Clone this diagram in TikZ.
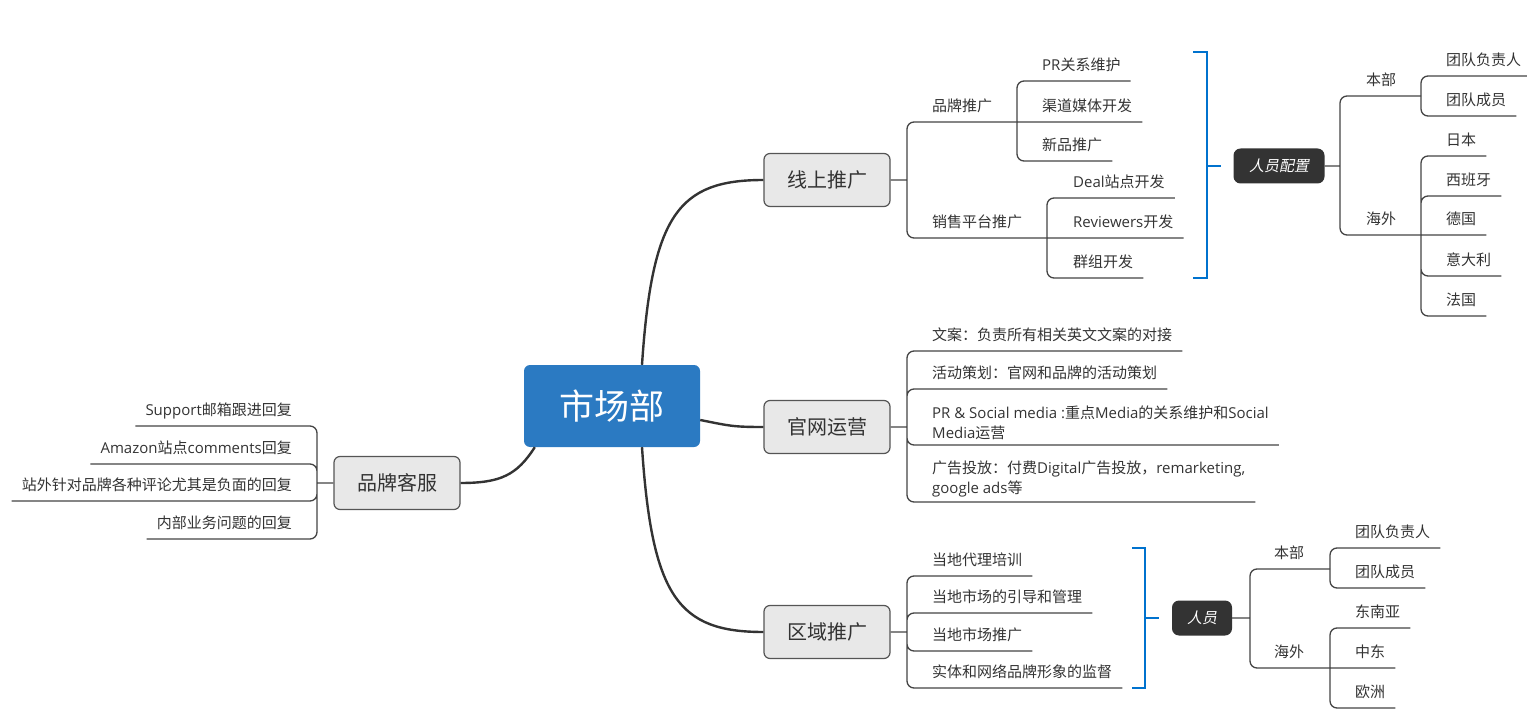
\documentclass[tikz,border=0pt]{standalone}
\usepackage{fontspec}
\setmainfont{Noto Sans CJK SC}
\newfontfamily\en{Open Sans}
\newfontfamily\zhslant[FakeSlant=0.2]{Noto Sans CJK SC}
\definecolor{hubblue}{RGB}{43,122,194}
\definecolor{bracketblue}{RGB}{0,114,206}
\definecolor{topicgray}{RGB}{232,232,232}
\definecolor{edgegray}{RGB}{85,85,85}
\definecolor{inkgray}{RGB}{51,51,51}
\definecolor{linegray}{RGB}{68,68,68}

\begin{document}
\begin{tikzpicture}[x=1pt,y=-1pt,
    hub/.style={rounded corners=6pt,fill=hubblue,text=white,minimum width=176pt,minimum height=82pt,font=\fontsize{35}{40}\selectfont},
    topic/.style={rounded corners=6pt,draw=edgegray,line width=1.2pt,fill=topicgray,text=inkgray,minimum width=126pt,minimum height=53pt,font=\fontsize{20}{24}\selectfont},
    tag/.style={rounded corners=7pt,fill=inkgray,text=white,minimum height=35pt,font=\zhslant\fontsize{15}{18}\selectfont},
    leafbase/.style={inner xsep=10pt,text=inkgray,font=\fontsize{15}{20}\selectfont},
    leaf/.style={leafbase,anchor=south west,inner ysep=10.5pt,text depth=0pt},
    leftleaf/.style={leaf,anchor=south east},
    twoline/.style={leafbase,anchor=south west,inner ysep=5pt,align=left},
    trunk/.style={line width=2.4pt,draw=inkgray},
    twig/.style={line width=1.3pt,draw=linegray,rounded corners=7pt},
    brace/.style={line width=2.8pt,draw=bracketblue}]

  \useasboundingbox (0,0) rectangle (1527,722);

  % centre and main topics
  \node[hub] (mkt) at (612,406) {市场部};
  \node[topic] (online) at (827,180) {线上推广};
  \node[topic] (web) at (827,427) {官网运营};
  \node[topic] (region) at (827,632) {区域推广};
  \node[topic] (svc) at (397,483) {品牌客服};

  \draw[trunk] ([xshift=30pt]mkt.north) .. controls +(10,-150) and +(-85,0) .. (online.west);
  \draw[trunk] ([xshift=30pt]mkt.south) .. controls +(10,150) and +(-85,0) .. (region.west);
  \draw[trunk] ([yshift=-14pt]mkt.east) .. controls +(30,6) and +(-30,0) .. (web.west);
  \draw[trunk] ([xshift=11pt]mkt.south west) .. controls +(-18,28) and +(40,0) .. (svc.east);

  % 线上推广
  \coordinate (on0) at (907,180);
  \coordinate (on1) at (1017,122);
  \coordinate (on2) at (1047,238);
  \node[leaf] (brand) at (922,122) {品牌推广};
  \node[leaf] (sales) at (922,238) {销售平台推广};
  \draw[twig] (online) -- (on0) (on0) |- (on1) (on0) |- (on2);

  \node[leaf] (prcare) at (1032,81) {{\en PR}关系维护};
  \node[leaf] (channel) at (1032,122) {渠道媒体开发};
  \node[leaf] (newprod) at (1032,161) {新品推广};
  \draw[twig] (on1) |- (prcare.south east) (on1) -- (channel.south east)
              (on1) |- (newprod.south east);

  \node[leaf] (deal) at (1063,198) {{\en Deal}站点开发};
  \node[leaf] (review) at (1063,238) {{\en Reviewers}开发};
  \node[leaf] (group) at (1063,278) {群组开发};
  \draw[twig] (on2) |- (deal.south east) (on2) -- (review.south east)
              (on2) |- (group.south east);

  % 人员配置
  \node[tag,minimum width=91pt] (staff) at (1279,166) {人员配置};
  \coordinate (bt) at (1207,166);
  \draw[brace] (1193,52) -| (bt) |- (1193,278);
  \draw[brace] (bt) -- ([xshift=-12pt]staff.west);

  \coordinate (st0) at (1340,166);
  \coordinate (st1) at (1421,96);
  \coordinate (st2) at (1421,235);
  \node[leaf] (hq) at (1356,96) {本部};
  \node[leaf] (abroad) at (1356,235) {海外};
  \draw[twig] (staff) -- (st0) (st0) |- (st1) (st0) |- (st2);

  \node[leaf] (lead) at (1436,76) {团队负责人};
  \node[leaf] (member) at (1436,116) {团队成员};
  \draw[twig] (st1) |- (lead.south east) (st1) |- (member.south east);

  \node[leaf] (jp) at (1436,156) {日本};
  \node[leaf] (es) at (1436,196) {西班牙};
  \node[leaf] (de) at (1436,235) {德国};
  \node[leaf] (it) at (1436,276) {意大利};
  \node[leaf] (fr) at (1436,316) {法国};
  \draw[twig] (st2) |- (jp.south east) (st2) |- (es.south east) (st2) -- (de.south east)
              (st2) |- (it.south east) (st2) |- (fr.south east);

  % 官网运营
  \coordinate (wb0) at (907,427);
  \node[leaf] (copy) at (922,351) {文案：负责所有相关英文文案的对接};
  \node[leaf] (event) at (922,389) {活动策划：官网和品牌的活动策划};
  \node[twoline] (social) at (922,445) {{\en PR \& Social media :}重点{\en Media}的关系维护和{\en Social}\\{\en Media}运营};
  \node[twoline] (ads) at (922,502) {广告投放：付费{\en Digital}广告投放，{\en remarketing,}\\{\en google ads}等};
  \draw[twig] (web) -- (wb0) (wb0) |- (copy.south east) (wb0) |- (event.south east)
              (wb0) |- (social.south east) (wb0) |- (ads.south east);

  % 区域推广
  \coordinate (rg0) at (907,632);
  \node[leaf] (agent) at (922,576) {当地代理培训};
  \node[leaf] (guide) at (922,613) {当地市场的引导和管理};
  \node[leaf] (promo) at (922,651) {当地市场推广};
  \node[leaf] (watch) at (922,688) {实体和网络品牌形象的监督};
  \draw[twig] (region) -- (rg0) (rg0) |- (agent.south east) (rg0) |- (guide.south east)
              (rg0) |- (promo.south east) (rg0) |- (watch.south east);

  % 人员
  \node[tag,minimum width=60pt] (crew) at (1202,618) {人员};
  \coordinate (bb) at (1145,618);
  \draw[brace] (1132,548) -| (bb) |- (1132,688);
  \draw[brace] (bb) -- ([xshift=-13pt]crew.west);

  \coordinate (cr0) at (1250,618);
  \coordinate (cr1) at (1330,569);
  \coordinate (cr2) at (1330,668);
  \node[leaf] (hq2) at (1264,569) {本部};
  \node[leaf] (abroad2) at (1264,668) {海外};
  \draw[twig] (crew) -- (cr0) (cr0) |- (cr1) (cr0) |- (cr2);

  \node[leaf] (lead2) at (1345,548) {团队负责人};
  \node[leaf] (member2) at (1345,588) {团队成员};
  \draw[twig] (cr1) |- (lead2.south east) (cr1) |- (member2.south east);

  \node[leaf] (sea) at (1345,628) {东南亚};
  \node[leaf] (me) at (1345,668) {中东};
  \node[leaf] (eu) at (1345,708) {欧洲};
  \draw[twig] (cr2) |- (sea.south east) (cr2) -- (me.south east) (cr2) |- (eu.south east);

  % 品牌客服
  \coordinate (sv0) at (317,483);
  \node[leftleaf] (mail) at (302,426) {{\en Support}邮箱跟进回复};
  \node[leftleaf] (amz) at (302,464) {{\en Amazon}站点{\en comments}回复};
  \node[leftleaf] (offsite) at (302,501) {站外针对品牌各种评论尤其是负面的回复};
  \node[leftleaf] (inner) at (302,539) {内部业务问题的回复};
  \draw[twig] (svc) -- (sv0) (sv0) |- (mail.south west) (sv0) |- (amz.south west)
              (sv0) |- (offsite.south west) (sv0) |- (inner.south west);
\end{tikzpicture}
\end{document}
